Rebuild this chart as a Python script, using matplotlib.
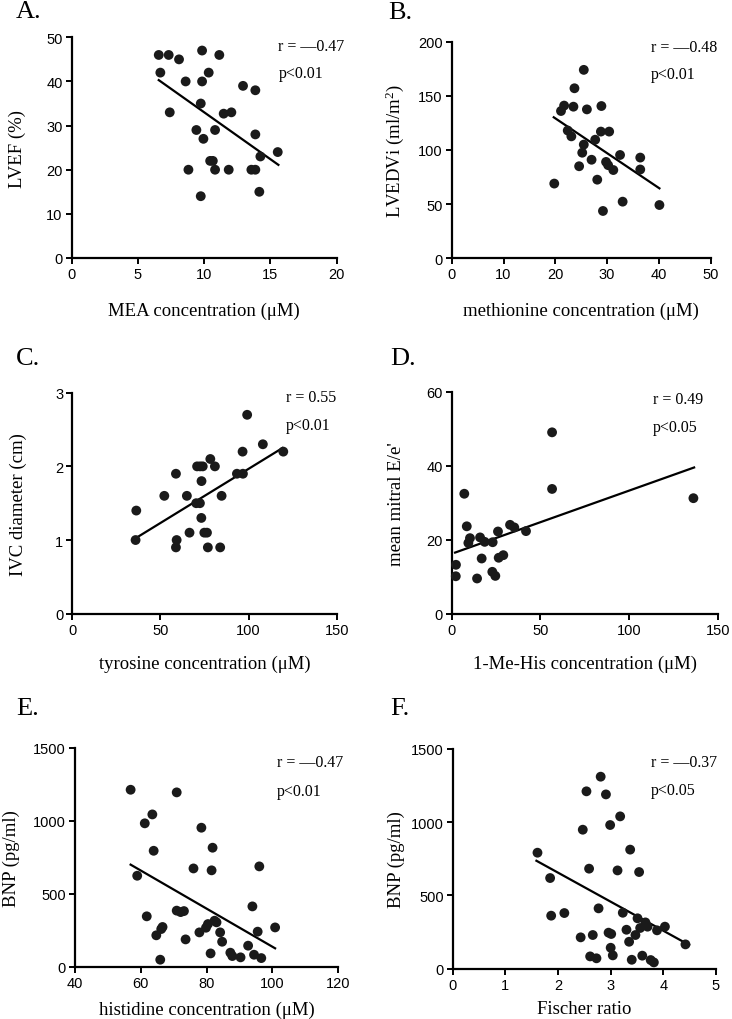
import matplotlib
matplotlib.use("Agg")
import matplotlib.pyplot as plt

# ---------------- data ----------------
A_x = [6.57, 7.32, 8.10, 6.69, 9.84, 11.14, 10.34, 8.60, 9.84, 12.93, 13.86, 9.74, 7.40, 11.47, 12.05,
       9.41, 10.82, 9.94, 13.86, 14.24, 15.55, 10.45, 10.65, 8.81, 10.82, 11.85, 13.56, 13.86, 9.74, 14.16]
A_y = [46, 46, 45, 42, 47, 46, 42, 40, 40, 39, 38, 35, 33, 32.7, 33,
       29, 29, 27, 28, 23, 24, 22, 22, 20, 20, 20, 20, 20, 14, 15]
A_fit_x = [6.57, 15.6]
A_fit_y = [40.3, 21.1]

B_x = [25.5, 23.7, 21.1, 21.7, 23.5, 26.1, 28.9, 22.4, 23.1, 28.8, 30.4, 27.7, 25.5, 25.2,
       27.0, 29.8, 30.2, 24.6, 31.2, 32.5, 36.4, 36.4, 28.1, 19.8, 33.0, 29.2, 40.1]
B_y = [174, 157, 136, 141, 140, 137.5, 140.6, 118, 112.6, 117, 117, 109.5, 105, 97.5,
       91, 89, 86, 85, 81.5, 95.4, 93, 82, 72.6, 69, 52.3, 43.7, 49.2]
B_fit_x = [19.7, 40.1]
B_fit_y = [130.2, 64.6]

C_x = [36.3, 35.9, 52.2, 58.8, 59.2, 58.8, 65.0, 66.5, 70.8, 72.5, 74.0, 78.3, 80.9, 73.3,
       70.3, 72.4, 84.7, 73.2, 74.9, 76.4, 76.9, 83.9, 93.4, 96.8, 96.6, 99.2, 108.1, 119.7]
C_y = [1.4, 1.0, 1.6, 1.9, 1.0, 0.9, 1.6, 1.1, 2.0, 2.0, 2.0, 2.1, 2.0, 1.8,
       1.5, 1.5, 1.6, 1.3, 1.1, 1.1, 0.9, 0.9, 1.9, 1.9, 2.2, 2.7, 2.3, 2.2]
C_fit_x = [36.3, 119.3]
C_fit_y = [1.03, 2.25]

D_x = [56.6, 56.6, 136.3, 7.1, 8.5, 10.3, 9.4, 16.0, 18.6, 23.1, 26.1, 32.9, 35.3, 41.9,
       2.4, 2.3, 16.9, 14.3, 22.9, 24.6, 26.5, 29.1]
D_y = [49.1, 33.8, 31.3, 32.5, 23.7, 20.5, 19.2, 20.7, 19.5, 19.4, 22.3, 24.1, 23.4, 22.4,
       13.3, 10.2, 15.0, 9.6, 11.4, 10.3, 15.2, 15.9]
D_fit_x = [1.9, 136.7]
D_fit_y = [16.6, 39.6]

E_x = [56.9, 70.9, 63.5, 61.2, 78.4, 63.9, 81.8, 96.0, 76.0, 81.5, 58.9, 93.9, 61.8, 70.9,
       72.1, 73.1, 82.4, 83.0, 80.4, 79.8, 77.8, 84.1, 100.8, 95.5, 66.6, 66.2, 64.7, 73.6,
       84.7, 92.6, 81.2, 87.2, 87.8, 90.3, 94.4, 96.6, 65.9]
E_y = [1212, 1194, 1043, 982, 952, 794, 815, 687, 673, 660, 623, 413, 345, 384,
       374, 381, 315, 304, 292, 267, 235, 235, 269, 240, 272, 258, 215, 187,
       171, 144, 91, 96, 73, 64, 82, 59, 48]
E_fit_x = [56.9, 100.8]
E_fit_y = [699, 126]

F_x = [2.81, 2.54, 2.91, 3.18, 2.99, 2.47, 3.37, 1.61, 2.59, 3.13, 3.54, 1.85, 1.87, 2.12,
       2.77, 3.23, 3.51, 3.66, 3.70, 3.56, 4.03, 3.88, 3.30, 2.96, 3.01, 2.66, 2.43, 3.47,
       3.35, 4.42, 3.00, 2.61, 2.73, 3.04, 3.40, 3.60, 3.76, 3.82]
F_y = [1311, 1211, 1190, 1040, 981, 949, 813, 792, 683, 671, 660, 619, 362, 380,
       412, 382, 344, 316, 287, 278, 287, 262, 266, 246, 237, 230, 214, 230,
       184, 166, 143, 84, 71, 91, 61, 89, 59, 43]
F_fit_x = [1.59, 4.49]
F_fit_y = [737, 162]

panel_letters = ["A.", "B.", "C.", "D.", "E.", "F."]
x_labels = ["MEA concentration (\u03bcM)", "methionine concentration (\u03bcM)",
            "tyrosine concentration (\u03bcM)", "1-Me-His concentration (\u03bcM)",
            "histidine concentration (\u03bcM)", "Fischer ratio"]
y_labels = ["LVEF (%)", "LVEDVi (ml/m$\\mathregular{^2}$)", "IVC diameter (cm)",
            "mean mitral E/e'", "BNP (pg/ml)", "BNP (pg/ml)"]
r_texts = ["r = \u20140.47", "r = \u20140.48", "r = 0.55", "r = 0.49", "r = \u20140.47", "r = \u20140.37"]
p_texts = ["p<0.01", "p<0.01", "p<0.01", "p<0.05", "p<0.01", "p<0.05"]
x_ticks = [[0, 5, 10, 15, 20], [0, 10, 20, 30, 40, 50], [0, 50, 100, 150],
           [0, 50, 100, 150], [40, 60, 80, 100, 120], [0, 1, 2, 3, 4, 5]]
y_ticks = [[0, 10, 20, 30, 40, 50], [0, 50, 100, 150, 200], [0, 1, 2, 3],
           [0, 20, 40, 60], [0, 500, 1000, 1500], [0, 500, 1000, 1500]]

xs = [A_x, B_x, C_x, D_x, E_x, F_x]
ys = [A_y, B_y, C_y, D_y, E_y, F_y]
fxs = [A_fit_x, B_fit_x, C_fit_x, D_fit_x, E_fit_x, F_fit_x]
fys = [A_fit_y, B_fit_y, C_fit_y, D_fit_y, E_fit_y, F_fit_y]

# ---------------- layout (pixels) ----------------
W, H = 732, 1020
boxes = [(71.7, 38.3, 336.7, 259.0), (451.7, 42.7, 710.7, 259.3),
         (72.3, 393.7, 336.7, 614.7), (451.7, 393.0, 717.7, 615.0),
         (75.0, 748.7, 338.3, 967.7), (452.7, 750.0, 716.0, 969.7)]
ylabel_x = [17, 395, 18, 396, 11, 396]
xlabel_base = [316, 316, 669, 669, 1015, 1014]
letter_pos = [(16, 1), (388, 2), (16, 348), (390, 348), (16, 698), (390, 698)]
rtext_pos = [(0.78, 0.96, 0.84), (0.77, 0.975, 0.85), (0.807, 0.98, 0.855),
             (0.756, 0.97, 0.844), (0.768, 0.933, 0.80), (0.752, 0.94, 0.813)]

SERIF = ["Liberation Serif", "DejaVu Serif"]
SANS = ["Liberation Sans", "DejaVu Sans"]

fig = plt.figure(figsize=(W / 100, H / 100), dpi=100)

for i in range(6):
    l, t, r, b = boxes[i]
    ax = fig.add_axes([l / W, 1 - b / H, (r - l) / W, (b - t) / H])
    ax.scatter(xs[i], ys[i], s=50, color="#1a1a1a", edgecolors="none", clip_on=False, zorder=3)
    ax.plot(fxs[i], fys[i], color="black", lw=1.6, zorder=2)
    ax.set_xlim(x_ticks[i][0], x_ticks[i][-1])
    ax.set_ylim(y_ticks[i][0], y_ticks[i][-1])
    ax.set_xticks(x_ticks[i])
    ax.set_yticks(y_ticks[i])
    for s in ["top", "right"]:
        ax.spines[s].set_visible(False)
    for s in ["left", "bottom"]:
        ax.spines[s].set_linewidth(1.6)
    ax.tick_params(direction="out", length=4.5, width=1.4, pad=2, labelsize=10.5)
    for lab in ax.get_xticklabels() + ax.get_yticklabels():
        lab.set_family(SANS)
    # labels
    ax.set_xlabel(x_labels[i], family=SERIF, fontsize=13.5, va="baseline")
    ax.xaxis.set_label_coords(0.5, (b - xlabel_base[i]) / (b - t))
    ax.set_ylabel(y_labels[i], family=SERIF, fontsize=13.5, va="center")
    ax.yaxis.set_label_coords((ylabel_x[i] - l) / (r - l), 0.5)
    rx, ry, py = rtext_pos[i]
    ax.text(rx, ry, r_texts[i], transform=ax.transAxes, family=SERIF, fontsize=11.5,
            ha="left", va="center")
    ax.text(rx, py, p_texts[i], transform=ax.transAxes, family=SERIF, fontsize=11.5,
            ha="left", va="center")
    lx, ly = letter_pos[i]
    fig.text(lx / W, 1 - ly / H, panel_letters[i], family=SERIF, fontsize=19,
             ha="left", va="top")

fig.savefig("out.png", dpi=100)
